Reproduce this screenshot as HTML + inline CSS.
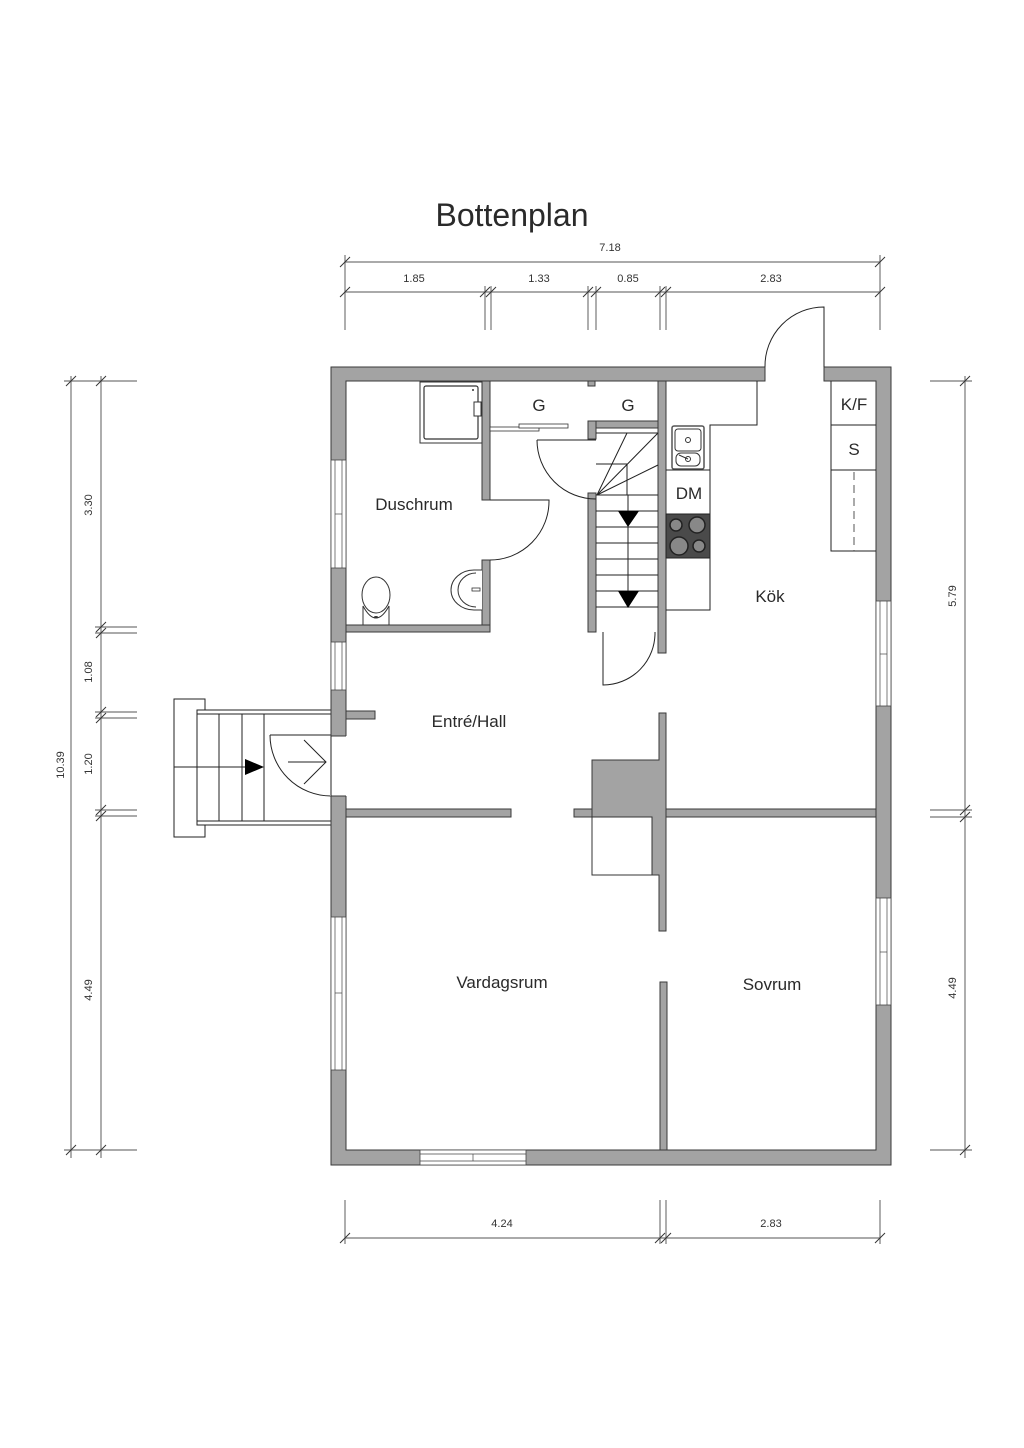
<!DOCTYPE html>
<html><head><meta charset="utf-8"><style>
html,body{margin:0;padding:0;background:#fff;}
svg{display:block;}
text{font-family:"Liberation Sans",sans-serif;fill:#2a2a2a;}
.w{fill:#a3a3a3;stroke:#3a3a3a;stroke-width:1;}
.l{stroke:#222;stroke-width:1;fill:none;}
.d{stroke:#777;stroke-width:1.2;fill:none;}
.t{stroke:#333;stroke-width:1;}
.win{fill:#fff;stroke:#444;stroke-width:0.8;}
.dim{font-size:11px;fill:#333;}
.lbl{font-size:17px;}
</style></head><body>
<svg width="1024" height="1448" viewBox="0 0 1024 1448" xmlns="http://www.w3.org/2000/svg">
<rect width="1024" height="1448" fill="#fff"/>
<text x="512" y="226" font-size="32" text-anchor="middle">Bottenplan</text>

<!-- top dims -->
<g class="d">
<line x1="345" y1="262" x2="880" y2="262"/>
<line x1="345" y1="292" x2="880" y2="292"/>
<line x1="345" y1="255" x2="345" y2="330"/>
<line x1="880" y1="255" x2="880" y2="330"/>
<line x1="485" y1="286" x2="485" y2="330"/><line x1="491" y1="286" x2="491" y2="330"/>
<line x1="588" y1="286" x2="588" y2="330"/><line x1="596" y1="286" x2="596" y2="330"/>
<line x1="660" y1="286" x2="660" y2="330"/><line x1="666" y1="286" x2="666" y2="330"/>
</g>
<g class="t">
<line x1="340" y1="267" x2="350" y2="257"/><line x1="875" y1="267" x2="885" y2="257"/>
<line x1="340" y1="297" x2="350" y2="287"/><line x1="875" y1="297" x2="885" y2="287"/>
<line x1="480" y1="297" x2="490" y2="287"/><line x1="486" y1="297" x2="496" y2="287"/>
<line x1="583" y1="297" x2="593" y2="287"/><line x1="591" y1="297" x2="601" y2="287"/>
<line x1="655" y1="297" x2="665" y2="287"/><line x1="661" y1="297" x2="671" y2="287"/>
</g>
<text class="dim" x="610" y="251" text-anchor="middle">7.18</text>
<text class="dim" x="414" y="282" text-anchor="middle">1.85</text>
<text class="dim" x="539" y="282" text-anchor="middle">1.33</text>
<text class="dim" x="628" y="282" text-anchor="middle">0.85</text>
<text class="dim" x="771" y="282" text-anchor="middle">2.83</text>

<!-- bottom dims -->
<g class="d">
<line x1="345" y1="1238" x2="880" y2="1238"/>
<line x1="345" y1="1200" x2="345" y2="1244"/><line x1="880" y1="1200" x2="880" y2="1244"/>
<line x1="660" y1="1200" x2="660" y2="1244"/><line x1="666" y1="1200" x2="666" y2="1244"/>
</g>
<g class="t">
<line x1="340" y1="1243" x2="350" y2="1233"/><line x1="875" y1="1243" x2="885" y2="1233"/>
<line x1="655" y1="1243" x2="665" y2="1233"/><line x1="661" y1="1243" x2="671" y2="1233"/>
</g>
<text class="dim" x="502" y="1227" text-anchor="middle">4.24</text>
<text class="dim" x="771" y="1227" text-anchor="middle">2.83</text>

<!-- left dims -->
<g class="d">
<line x1="71" y1="376" x2="71" y2="1158"/>
<line x1="101" y1="376" x2="101" y2="1158"/>
<line x1="64" y1="381" x2="137" y2="381"/>
<line x1="64" y1="1150" x2="137" y2="1150"/>
<line x1="95" y1="627" x2="137" y2="627"/><line x1="95" y1="633" x2="137" y2="633"/>
<line x1="95" y1="712" x2="137" y2="712"/><line x1="95" y1="718" x2="137" y2="718"/>
<line x1="95" y1="810" x2="137" y2="810"/><line x1="95" y1="816" x2="137" y2="816"/>
</g>
<g class="t">
<line x1="66" y1="386" x2="76" y2="376"/><line x1="96" y1="386" x2="106" y2="376"/>
<line x1="66" y1="1155" x2="76" y2="1145"/><line x1="96" y1="1155" x2="106" y2="1145"/>
<line x1="96" y1="632" x2="106" y2="622"/><line x1="96" y1="638" x2="106" y2="628"/>
<line x1="96" y1="717" x2="106" y2="707"/><line x1="96" y1="723" x2="106" y2="713"/>
<line x1="96" y1="815" x2="106" y2="805"/><line x1="96" y1="821" x2="106" y2="811"/>
</g>
<text class="dim" transform="translate(64,765) rotate(-90)" text-anchor="middle">10.39</text>
<text class="dim" transform="translate(92,505) rotate(-90)" text-anchor="middle">3.30</text>
<text class="dim" transform="translate(92,672) rotate(-90)" text-anchor="middle">1.08</text>
<text class="dim" transform="translate(92,764) rotate(-90)" text-anchor="middle">1.20</text>
<text class="dim" transform="translate(92,990) rotate(-90)" text-anchor="middle">4.49</text>

<!-- right dims -->
<g class="d">
<line x1="965" y1="376" x2="965" y2="1158"/>
<line x1="930" y1="381" x2="972" y2="381"/>
<line x1="930" y1="1150" x2="972" y2="1150"/>
<line x1="930" y1="810" x2="972" y2="810"/><line x1="930" y1="817" x2="972" y2="817"/>
</g>
<g class="t">
<line x1="960" y1="386" x2="970" y2="376"/><line x1="960" y1="1155" x2="970" y2="1145"/>
<line x1="960" y1="815" x2="970" y2="805"/><line x1="960" y1="822" x2="970" y2="812"/>
</g>
<text class="dim" transform="translate(956,596) rotate(-90)" text-anchor="middle">5.79</text>
<text class="dim" transform="translate(956,988) rotate(-90)" text-anchor="middle">4.49</text>

<!-- entrance stairs -->
<g class="l">
<rect x="174" y="699" width="31" height="138" fill="#fff"/>
<rect x="197" y="710" width="134" height="115" fill="#fff"/>
<line x1="197" y1="714" x2="331" y2="714"/><line x1="197" y1="821" x2="331" y2="821"/>
<line x1="219" y1="714" x2="219" y2="821"/><line x1="242" y1="714" x2="242" y2="821"/><line x1="264" y1="714" x2="264" y2="821"/>
<line x1="174" y1="767" x2="245" y2="767"/>
</g>
<polygon points="245,759 264,767 245,775" fill="#000"/>
<path class="l" d="M270,735 L331,735 M270,735 A61,61 0 0 0 331,796"/>
<path class="l" d="M288,762 L326,762 M304,740 L326,762 L304,784" stroke-width="1.2"/>

<!-- outer walls -->
<path class="w" fill-rule="evenodd" d="M331,367 H765 V381 H346 V1150 H876 V381 H824 V367 H891 V1165 H331 Z"/>
<rect x="330" y="736" width="17" height="60" fill="#fff"/>
<line x1="331" y1="736" x2="346" y2="736" stroke="#3a3a3a"/><line x1="331" y1="796" x2="346" y2="796" stroke="#3a3a3a"/>
<line x1="331" y1="736" x2="331" y2="796" class="l"/>
<!-- windows -->
<g>
<rect class="win" x="331" y="460" width="15" height="108"/><line x1="335" y1="460" x2="335" y2="568" stroke="#444" stroke-width=".7"/><line x1="342" y1="460" x2="342" y2="568" stroke="#444" stroke-width=".7"/><line x1="335" y1="514" x2="342" y2="514" stroke="#444" stroke-width=".7"/>
<rect class="win" x="331" y="642" width="15" height="48"/><line x1="335" y1="642" x2="335" y2="690" stroke="#444" stroke-width=".7"/><line x1="342" y1="642" x2="342" y2="690" stroke="#444" stroke-width=".7"/>
<rect class="win" x="331" y="917" width="15" height="153"/><line x1="335" y1="917" x2="335" y2="1070" stroke="#444" stroke-width=".7"/><line x1="342" y1="917" x2="342" y2="1070" stroke="#444" stroke-width=".7"/><line x1="335" y1="993" x2="342" y2="993" stroke="#444" stroke-width=".7"/>
<rect class="win" x="876" y="601" width="15" height="105"/><line x1="880" y1="601" x2="880" y2="706" stroke="#444" stroke-width=".7"/><line x1="887" y1="601" x2="887" y2="706" stroke="#444" stroke-width=".7"/><line x1="880" y1="654" x2="887" y2="654" stroke="#444" stroke-width=".7"/>
<rect class="win" x="876" y="898" width="15" height="107"/><line x1="880" y1="898" x2="880" y2="1005" stroke="#444" stroke-width=".7"/><line x1="887" y1="898" x2="887" y2="1005" stroke="#444" stroke-width=".7"/><line x1="880" y1="952" x2="887" y2="952" stroke="#444" stroke-width=".7"/>
<rect class="win" x="420" y="1150" width="106" height="15"/><line x1="420" y1="1154" x2="526" y2="1154" stroke="#444" stroke-width=".7"/><line x1="420" y1="1161" x2="526" y2="1161" stroke="#444" stroke-width=".7"/><line x1="473" y1="1154" x2="473" y2="1161" stroke="#444" stroke-width=".7"/>
</g>

<path class="l" d="M824,367 V307 A59,59 0 0 0 765,367"/>

<!-- interior walls -->
<rect class="w" x="346" y="711" width="29" height="8"/>
<rect class="w" x="482" y="381" width="8" height="119"/>
<rect class="w" x="482" y="560" width="8" height="72"/>
<rect class="w" x="346" y="625" width="144" height="7"/>
<rect class="w" x="588" y="381" width="7" height="5"/>
<rect class="w" x="588" y="421" width="70" height="7"/>
<rect class="w" x="588" y="421" width="8" height="18"/>
<rect class="w" x="588" y="493" width="8" height="139"/>
<rect class="w" x="658" y="381" width="8" height="272"/>
<rect class="w" x="346" y="809" width="165" height="8"/>
<rect class="w" x="574" y="809" width="302" height="8"/>
<path class="w" d="M659,713 H666 V931 H659 V875 H652 V817 H592 V760 H659 Z"/>
<rect x="592" y="817" width="60" height="58" fill="#fff" stroke="#333" stroke-width="1"/>
<rect class="w" x="660" y="982" width="7" height="168"/>

<!-- duschrum -->
<rect x="420" y="382" width="62" height="61" fill="#fff" stroke="#333" stroke-width="1"/>
<rect x="424" y="386" width="54" height="53" rx="2" fill="#fff" stroke="#333" stroke-width="1.2"/>
<rect x="474" y="402" width="7" height="14" fill="#fff" stroke="#333"/>
<circle cx="473" cy="390" r="1" fill="#333"/>
<path class="l" d="M490,500 H549 A59,59 0 0 1 490,560"/>
<ellipse cx="376" cy="595" rx="14" ry="18" fill="#fff" stroke="#333"/>
<path d="M363,606 Q376,630 389,606 L389,625 H363 Z" fill="#fff" stroke="#333"/>
<ellipse cx="376" cy="617" rx="2" ry="1" fill="#333"/>
<path d="M482,570 H474 A23,20 0 1 0 474,610 H482" fill="#fff" stroke="#333"/>
<path d="M476,573 A18,17 0 1 0 476,607" fill="none" stroke="#333"/>
<rect x="472" y="588" width="8" height="3" fill="#fff" stroke="#333" stroke-width=".8"/>

<rect x="490" y="427" width="49" height="4" fill="#fff" stroke="#333" stroke-width=".8"/>
<rect x="519" y="424" width="49" height="4" fill="#fff" stroke="#333" stroke-width=".8"/>
<text class="lbl" x="539" y="411" text-anchor="middle">G</text>
<text class="lbl" x="628" y="411" text-anchor="middle">G</text>

<!-- stair -->
<path class="l" d="M537,440 H596 M537,440 A59,59 0 0 0 596,499"/>
<g class="l">
<line x1="596" y1="433" x2="658" y2="433"/>
<line x1="597" y1="495" x2="627" y2="433"/><line x1="597" y1="495" x2="658" y2="433"/><line x1="597" y1="495" x2="658" y2="465"/>
<line x1="596" y1="464" x2="627" y2="464"/><line x1="627" y1="464" x2="627" y2="495"/>
<line x1="596" y1="495" x2="658" y2="495"/>
<line x1="596" y1="511" x2="658" y2="511"/><line x1="596" y1="527" x2="658" y2="527"/>
<line x1="596" y1="543" x2="658" y2="543"/><line x1="596" y1="559" x2="658" y2="559"/>
<line x1="596" y1="575" x2="658" y2="575"/><line x1="596" y1="591" x2="658" y2="591"/>
<line x1="596" y1="607" x2="658" y2="607"/>
<line x1="628" y1="495" x2="628" y2="607"/>
</g>
<polygon points="618,511 639,511 628,527" fill="#000"/>
<polygon points="618,591 639,591 628,608" fill="#000"/>
<path class="l" d="M603,632 V685 A52,52 0 0 0 655,632"/>

<!-- kitchen -->
<path class="l" d="M757,381 V425 H710 V610 H666"/>
<rect x="672" y="426" width="32" height="43" rx="2" fill="#fff" stroke="#555" stroke-width="1.5"/>
<rect x="675" y="429" width="26" height="22" rx="3" fill="#fff" stroke="#333"/>
<rect x="676" y="453" width="24" height="13" rx="5" fill="#fff" stroke="#333"/>
<circle cx="688" cy="440" r="2.5" fill="none" stroke="#333"/>
<circle cx="688" cy="459" r="2.5" fill="none" stroke="#333"/>
<line x1="679" y1="455" x2="688" y2="459" stroke="#333"/>
<line x1="666" y1="470" x2="710" y2="470" stroke="#222"/>
<text class="lbl" x="689" y="499" text-anchor="middle">DM</text>
<rect x="666" y="514" width="44" height="44" fill="#4a4a4a" stroke="#222"/>
<circle cx="676" cy="525" r="6" fill="#888" stroke="#222" stroke-width="1.5"/>
<circle cx="697" cy="525" r="8" fill="#888" stroke="#222" stroke-width="1.5"/>
<circle cx="679" cy="546" r="9" fill="#888" stroke="#222" stroke-width="1.5"/>
<circle cx="699" cy="546" r="6" fill="#888" stroke="#222" stroke-width="1.5"/>
<line x1="666" y1="558" x2="710" y2="558" stroke="#222"/>
<path class="l" d="M831,381 V551 H876 M831,425 H876 M831,470 H876"/>
<line x1="854" y1="472" x2="854" y2="551" stroke="#555" stroke-dasharray="8,5"/>
<text class="lbl" x="854" y="410" text-anchor="middle">K/F</text>
<text class="lbl" x="854" y="455" text-anchor="middle">S</text>

<text class="lbl" x="414" y="510" text-anchor="middle">Duschrum</text>
<text class="lbl" x="770" y="602" text-anchor="middle">Kök</text>
<text class="lbl" x="469" y="727" text-anchor="middle">Entré/Hall</text>
<text class="lbl" x="502" y="988" text-anchor="middle">Vardagsrum</text>
<text class="lbl" x="772" y="990" text-anchor="middle">Sovrum</text>
</svg>
</body></html>
